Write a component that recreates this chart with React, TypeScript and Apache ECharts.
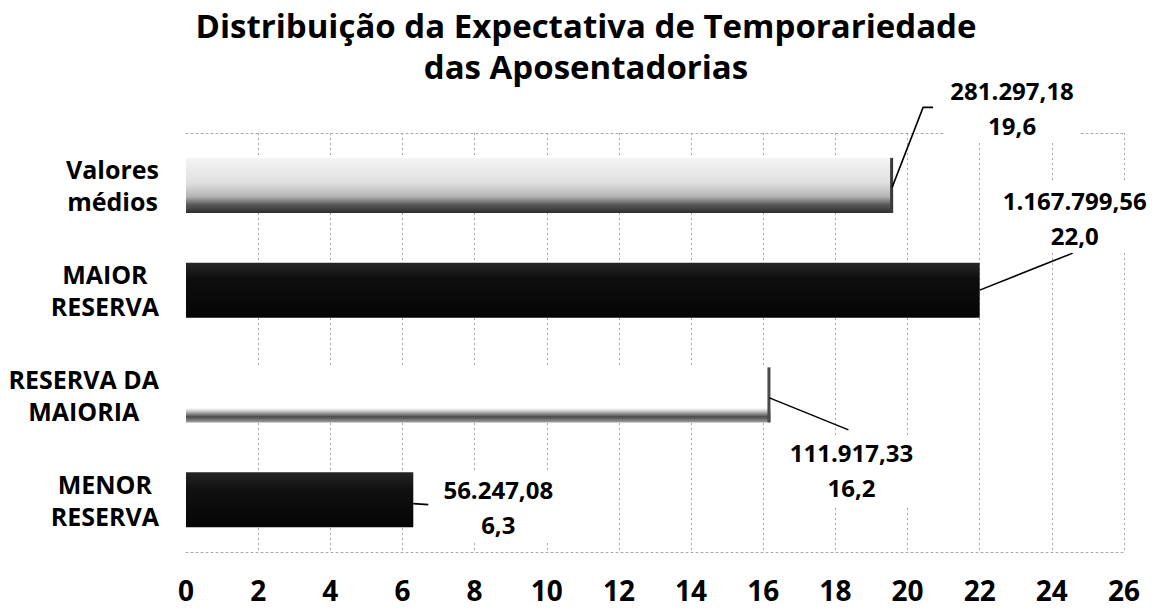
import React, { useEffect, useRef } from "react";
import * as echarts from "echarts";

// ---- data ----
const categoryLabels = ["MENOR\nRESERVA", "RESERVA DA\nMAIORIA", "MAIOR\nRESERVA", "Valores\nmédios"];
const durations = [6.3, 16.2, 22.0, 19.6];
const reserveValues = ["56.247,08", "111.917,33", "1.167.799,56", "281.297,18"];
const xMin = 0;
const xMax = 26;
const xStep = 2;
const titleLines = ["Distribuição da Expectativa de Temporariedade", "das Aposentadorias"];

// ---- layout / style (not data) ----
const FONT = "'Open Sans', 'Noto Sans', sans-serif";
const BAR_W = 55;
// label centre offset from bar end (x) and bar centre (y)
const labelOffsets = [
  [85, 7.5],
  [81, 75.5],
  [95, -72.5],
  [119, -77.5],
];
// leader line points, relative to bar end / bar centre
const leaderPaths = [
  [[0, 4], [15, 5]],
  [[-1, 3], [78, 35]],
  [[0, 0], [93, -37]],
  [[-1, 2], [30, -78], [40, -78]],
];
const edgeStroke = [null, "#4a4a4a", null, "#3a3a3a"];

const grad = (stops: [number, string][]) =>
  new echarts.graphic.LinearGradient(0, 0, 0, 1, stops.map(([offset, color]) => ({ offset, color })));

const barFills = [
  grad([[0, "#262626"], [0.3, "#111"], [1, "#050505"]]),
  grad([[0, "#ffffff"], [0.74, "#ffffff"], [0.8, "#c4c4c4"], [0.9, "#4a4a4a"], [1, "#a0a0a0"]]),
  grad([[0, "#262626"], [0.3, "#0e0e0e"], [1, "#050505"]]),
  grad([[0, "#f4f4f4"], [0.45, "#e0e0e0"], [0.7, "#b5b5b5"], [0.85, "#5a5a5a"], [1, "#2e2e2e"]]),
];

const fmtYears = (v: number) => v.toFixed(1).replace(".", ",");

export default function App() {
  const ref = useRef<HTMLDivElement>(null);
  useEffect(() => {
    if (!ref.current) return;
    const chart = echarts.init(ref.current, undefined, { renderer: "svg" });
    const gridLine = { type: [2, 3] as any, color: "#a8a8a8", width: 1 };
    chart.setOption({
      animation: false,
      backgroundColor: "#ffffff",
      title: {
        text: titleLines.join("\n"),
        left: 586,
        top: 5,
        padding: 0,
        textAlign: "center",
        textStyle: {
          fontFamily: FONT,
          fontWeight: "bold",
          fontSize: 33,
          lineHeight: 41,
          color: "#000",
        },
      },
      grid: { left: 186, right: 32, top: 133, bottom: 59, containLabel: false },
      xAxis: [
        {
          type: "value",
          position: "bottom",
          min: xMin,
          max: xMax,
          interval: xStep,
          axisLine: { show: true, lineStyle: gridLine },
          axisTick: { show: false },
          splitLine: { show: true, showMinLine: false, lineStyle: gridLine },
          axisLabel: {
            margin: 23,
            fontFamily: FONT,
            fontWeight: "bold",
            fontSize: 28,
            lineHeight: 30,
            color: "#000",
          },
        },
        {
          type: "value",
          position: "top",
          min: xMin,
          max: xMax,
          interval: xStep,
          axisLine: { show: true, lineStyle: gridLine },
          axisTick: { show: false },
          axisLabel: { show: false },
          splitLine: { show: false },
        },
      ],
      yAxis: {
        type: "category",
        data: categoryLabels,
        axisLine: { show: false },
        axisTick: { show: false },
        splitLine: { show: false },
        axisLabel: {
          margin: 27,
          formatter: (v: string) => v.split("\n").map((s) => `{c|${s}}`).join("\n"),
          rich: {
            c: {
              align: "center",
              fontFamily: FONT,
              fontWeight: "bold",
              fontSize: 25,
              lineHeight: 32,
              color: "#000",
            },
          },
        },
      },
      series: [
        {
          type: "bar",
          xAxisIndex: 0,
          barWidth: BAR_W,
          data: durations.map((v, i) => ({ value: v, itemStyle: { color: barFills[i] } })),
          silent: true,
        },
        {
          type: "custom",
          xAxisIndex: 0,
          yAxisIndex: 0,
          silent: true,
          clip: false,
          z: 10,
          data: durations.map((v, i) => [v, i]),
          renderItem: (params: any, api: any) => {
            const i = params.dataIndex;
            const p = api.coord([api.value(0), api.value(1)]);
            const children: any[] = [];
            if (edgeStroke[i]) {
              children.push({
                type: "line",
                shape: { x1: p[0] - 1.5, y1: p[1] - BAR_W / 2, x2: p[0] - 1.5, y2: p[1] + BAR_W / 2 },
                style: { stroke: edgeStroke[i], lineWidth: 3 },
              });
            }
            children.push({
              type: "polyline",
              shape: { points: leaderPaths[i].map(([dx, dy]) => [p[0] + dx, p[1] + dy]) },
              style: { stroke: "#000", lineWidth: 1.6, fill: null },
            });
            children.push({
              type: "text",
              x: p[0] + labelOffsets[i][0],
              y: p[1] + labelOffsets[i][1],
              style: {
                text: reserveValues[i] + "\n" + fmtYears(durations[i]),
                align: "center",
                verticalAlign: "middle",
                fontFamily: FONT,
                fontWeight: "bold",
                fontSize: 24,
                lineHeight: 35,
                fill: "#000",
                backgroundColor: "#fff",
                padding: [0, 6],
              },
            });
            return { type: "group", children };
          },
        },
      ],
    });
    return () => chart.dispose();
  }, []);
  return (
    <div
      ref={ref}
      style={{ position: "fixed", left: 0, top: 0, width: 1156, height: 611, background: "#fff" }}
    />
  );
}
